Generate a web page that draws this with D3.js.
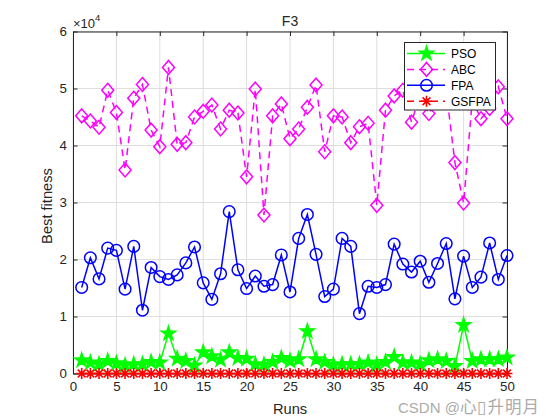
<!DOCTYPE html>
<html>
<head>
<meta charset="utf-8">
<script src="https://cdn.jsdelivr.net/npm/d3@7"></script>
<style>
body{margin:0;background:#fff;}
svg text{font-family:"Liberation Sans",Arial,Helvetica,sans-serif;}
</style>
</head>
<body>
<svg id="c" width="560" height="420"></svg>
<script>
const runs = d3.range(1, 51);
const PSO = [2300,1900,1600,2200,1800,1400,1600,1600,2000,1900,7000,2600,2200,1400,3700,3000,2400,3700,2700,2600,1600,1500,2000,2700,2200,2500,7400,2500,2000,1500,1600,1600,1600,1900,1500,2000,2900,1900,1900,1600,2300,2500,2200,1300,8500,2200,2500,2500,2500,2800];
const ABC = [45200,44300,43200,49700,45800,35700,48300,50700,42700,39800,53700,40200,40500,45000,46000,47100,42900,46200,45700,34500,49900,27800,45200,47300,41200,42900,46700,50600,38900,45200,45000,40500,43300,43900,29500,46200,48700,49700,44100,49000,45600,48500,49500,37000,29900,48000,44700,46500,50300,44700];
const FPA = [15100,20300,16600,22000,21600,14800,22300,11100,18600,17000,16500,17300,19400,22200,15900,13000,17500,28400,18200,14900,17100,15300,15600,20800,14300,23700,27900,20900,13500,14800,23700,22300,10500,15300,15100,15600,22700,19200,17800,19700,16000,19300,22800,13100,20600,15100,16900,22900,16500,20700];
const GSFPA = [0,0,0,0,0,0,0,0,0,0,0,0,0,0,0,0,0,0,0,0,0,0,0,0,0,0,0,0,0,0,0,0,0,0,0,0,0,0,0,0,0,0,0,0,0,0,0,0,0,0];
const xTicks = [0,5,10,15,20,25,30,35,40,45,50];
const yTicks = [0,10000,20000,30000,40000,50000,60000];
const seriesNames = ["PSO","ABC","FPA","GSFPA"];

const L=73, R=507, T=31.5, B=373.5;
const svg = d3.select("#c");
const x = d3.scaleLinear().domain([0,50]).range([L,R]);
const y = d3.scaleLinear().domain([0,60000]).range([B,T]);
const txt = "#262626";

// grid
const g = svg.append("g");
g.selectAll(".gx").data(xTicks).enter().append("line")
 .attr("x1",d=>x(d)).attr("x2",d=>x(d)).attr("y1",T).attr("y2",B)
 .attr("stroke","#dedede").attr("stroke-width",1);
g.selectAll(".gy").data(yTicks).enter().append("line")
 .attr("y1",d=>y(d)).attr("y2",d=>y(d)).attr("x1",L).attr("x2",R)
 .attr("stroke","#dedede").attr("stroke-width",1);

// axes
const fmtY = d => d/10000;
const ax = svg.append("g").attr("transform",`translate(0,${B})`)
 .call(d3.axisBottom(x).tickValues(xTicks).tickSizeInner(-4.5).tickSizeOuter(0).tickPadding(8.5));
const axT = svg.append("g").attr("transform",`translate(0,${T})`)
 .call(d3.axisTop(x).tickValues(xTicks).tickSizeInner(-4.5).tickSizeOuter(0).tickFormat(""));
const ay = svg.append("g").attr("transform",`translate(${L},0)`)
 .call(d3.axisLeft(y).tickValues(yTicks).tickFormat(fmtY).tickSizeInner(-4.5).tickSizeOuter(0).tickPadding(6));
const ayR = svg.append("g").attr("transform",`translate(${R},0)`)
 .call(d3.axisRight(y).tickValues(yTicks).tickSizeInner(-4.5).tickSizeOuter(0).tickFormat(""));
[ax,axT,ay,ayR].forEach(a=>{
  a.selectAll("path").attr("stroke",txt);
  a.selectAll("line").attr("stroke",txt);
  a.selectAll("text").attr("fill",txt).style("font-size","13.3px").style("font-family",'"Liberation Sans",Arial,sans-serif');
});

// series
const line = d3.line().x((d,i)=>x(runs[i])).y(d=>y(d));
const starD = d3.symbol().type(d3.symbolStar).size(62)();
const diamondD = (s=>`M0,${-s*1.15}L${s},0L0,${s*1.15}L${-s},0Z`)(6);
const astD = (r=>{const a=r*0.707;return `M${-r},0L${r},0M0,${-r}L0,${r}M${-a},${-a}L${a},${a}M${-a},${a}L${a},${-a}`;})(5.5);

const conf = [
 {name:"PSO", data:PSO, color:"#00ff00", dash:null, marker:"star"},
 {name:"ABC", data:ABC, color:"#ff00ff", dash:"7,5", marker:"diamond"},
 {name:"FPA", data:FPA, color:"#0000ff", dash:null, marker:"circle"},
 {name:"GSFPA", data:GSFPA, color:"#ff0000", dash:"7,5", marker:"ast"}
];
function drawMarker(sel, m, color){
  if(m==="star") sel.append("path").attr("d",starD).attr("fill",color).attr("stroke",color).attr("stroke-width",1.5).attr("stroke-linejoin","miter");
  else if(m==="diamond") sel.append("path").attr("d",diamondD).attr("fill","none").attr("stroke",color).attr("stroke-width",1.5);
  else if(m==="circle") sel.append("circle").attr("r",5.8).attr("fill","none").attr("stroke",color).attr("stroke-width",1.5);
  else sel.append("path").attr("d",astD).attr("fill","none").attr("stroke",color).attr("stroke-width",1.6);
}
conf.forEach(c=>{
  const gg = svg.append("g");
  gg.append("path").datum(c.data).attr("d",line).attr("fill","none")
    .attr("stroke",c.color).attr("stroke-width",1.5).attr("stroke-dasharray",c.dash);
  c.data.forEach((v,i)=>{
    const mg = gg.append("g").attr("transform",`translate(${x(runs[i])},${y(v)})`);
    drawMarker(mg,c.marker,c.color);
  });
});

// titles
svg.append("text").attr("x",290).attr("y",26).attr("text-anchor","middle").attr("fill",txt).style("font-size","14px").text("F3");
svg.append("text").attr("x",290).attr("y",414).attr("text-anchor","middle").attr("fill",txt).style("font-size","14.67px").text("Runs");
svg.append("text").attr("transform","translate(52,206) rotate(-90)").attr("text-anchor","middle").attr("fill",txt).style("font-size","14.67px").text("Best fitness");
const ex = svg.append("text").attr("x",73).attr("y",27.5).attr("fill",txt).style("font-size","13px");
ex.append("tspan").text("\u00d710");
ex.append("tspan").attr("dy",-6.5).style("font-size","9.5px").text("4");

// legend
const lg = svg.append("g");
lg.append("rect").attr("x",404.5).attr("y",42.5).attr("width",91).attr("height",67.5).attr("fill","#fff").attr("stroke",txt).attr("stroke-width",1);
conf.forEach((c,i)=>{
  const yy = 53.5 + i*15.9;
  lg.append("line").attr("x1",407).attr("x2",445).attr("y1",yy).attr("y2",yy)
    .attr("stroke",c.color).attr("stroke-width",1.5).attr("stroke-dasharray",c.dash);
  const mg = lg.append("g").attr("transform",`translate(426.5,${yy})`);
  drawMarker(mg,c.marker,c.color);
  lg.append("text").attr("x",451).attr("y",yy+4.5).attr("fill","#000").style("font-size","12px").text(c.name);
});

// watermark
const wm = svg.append("text").attr("x",398).attr("y",413).attr("fill","#ababab")
 .style("font-family",'"Liberation Sans","Noto Sans CJK SC",sans-serif').style("font-size","15px");
wm.append("tspan").text("CSDN @");
wm.append("tspan").style("font-family",'"Noto Sans CJK SC",sans-serif').style("font-size","16.5px").attr("letter-spacing","1px").text("心\u25AF升明月");
</script>
</body>
</html>
